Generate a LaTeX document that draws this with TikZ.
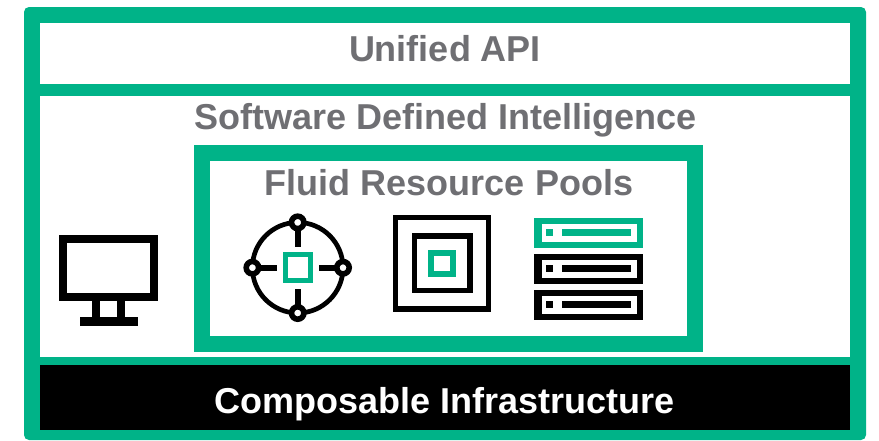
\documentclass[tikz,border=0pt]{standalone}
\usepackage{fontspec}
\setmainfont{Liberation Sans}
\definecolor{hpegreen}{HTML}{00B388}
\definecolor{labelgray}{HTML}{6F6F73}
\tikzset{
  x=1pt,y=-1pt,
  greenfill/.style={fill=hpegreen,draw=none},
  blackfill/.style={fill=black,draw=none},
  whitefill/.style={fill=white,draw=none},
  title/.style={font=\fontsize{36}{36}\bfseries\selectfont,text=labelgray,inner sep=0pt,anchor=base},
  darktitle/.style={title,text=white},
  ringline/.style={draw=black,line width=4.7pt,fill=none},
  spoke/.style={draw=black,line width=6pt},
  hub/.style={draw=black,fill=white,line width=5.6pt},
}
\newcommand{\boxring}[9]{%
  \fill[#1] (#2,#3) rectangle (#4,#5);
  \fill[whitefill] (#6,#7) rectangle (#8,#9);
}
\newcommand{\rackunit}[3]{%
  \boxring{#1}{534}{#2}{642.7}{#2+30.5}{541.7}{#2+6.6}{636.7}{#2+24}
  \fill[#1] (546,#2+11.6) rectangle (553,#2+18.4);
  \fill[#1] (561.7,#2+11.6) rectangle (#3,#2+18.4);
}
\begin{document}
\begin{tikzpicture}
\useasboundingbox (0,0) rectangle (879,440);
\fill[whitefill] (0,0) rectangle (879,440);
% outer frame
\fill[greenfill,rounded corners=5pt] (24,440) -- (24,7) -- (866,7) -- (866,440) -- cycle;
\fill[whitefill] (40,23) rectangle (850,84);
\fill[whitefill] (40,96) rectangle (850,357);
\fill[blackfill] (40,365) rectangle (850,429.5);
% pool frame
\boxring{greenfill}{194}{145}{702.5}{351.7}{210}{161}{686.8}{335.7}
% monitor
\boxring{blackfill}{59}{235}{158}{301}{67}{243}{150}{292.5}
\fill[blackfill] (92,301) rectangle (125.4,318);
\fill[whitefill] (100,301) rectangle (117,317.4);
\fill[blackfill] (79.5,317.4) rectangle (137.5,326);
% target icon
\coordinate (c) at (297.7,267.7);
\draw[ringline] (c) circle (45.3);
\coordinate (hubn) at (297.7,222.4);
\coordinate (hubs) at (297.7,313);
\coordinate (hubw) at (252.4,267.7);
\coordinate (hube) at (343,267.7);
\coordinate (spn) at (297.7,246.7);
\coordinate (sps) at (297.7,289);
\coordinate (spw) at (276.7,267.7);
\coordinate (spe) at (319,267.7);
\draw[spoke] (hubn) -- (spn);
\draw[spoke] (hubs) -- (sps);
\draw[spoke] (hubw) -- (spw);
\draw[spoke] (hube) -- (spe);
\draw[hub] (hubn) circle (6.2);
\draw[hub] (hubs) circle (6.2);
\draw[hub] (hubw) circle (6.2);
\draw[hub] (hube) circle (6.2);
\boxring{greenfill}{282.7}{252.4}{312.7}{282.8}{287.8}{257.4}{307.7}{277.8}
% nested squares icon
\boxring{blackfill}{393}{215}{491}{311.7}{398.3}{220.3}{485.7}{306.4}
\boxring{blackfill}{411.7}{233.3}{472.5}{293.3}{417.3}{239}{466.9}{287.6}
\boxring{greenfill}{428.3}{250}{455.7}{276.8}{434}{255.8}{450}{271}
% server rack icon
\rackunit{greenfill}{217.7}{631.3}
\rackunit{blackfill}{253.6}{630.7}
\rackunit{blackfill}{289.6}{630.7}
% labels
\node[title] (api) at (445,61) {Unified API};
\node[title] (sdi) at (445.5,129) {Software Defined Intelligence};
\node[title] (pools) at (449,195) {Fluid Resource Pools};
\node[darktitle] (ci) at (445,413) {Composable Infrastructure};
\end{tikzpicture}
\end{document}
